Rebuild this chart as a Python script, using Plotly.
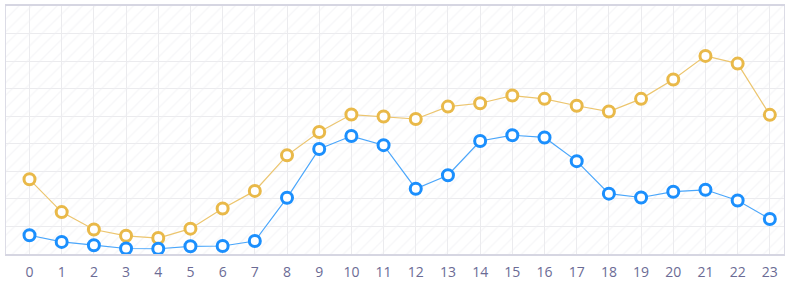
import plotly.graph_objects as go

hours = list(range(24))
tick_labels = [str(h) for h in hours]
series_yellow = [271, 152, 89, 66, 58, 92, 165, 229, 358, 443, 506, 499, 490, 535, 547, 575, 563, 538, 517, 563, 633, 719, 691, 505]
series_blue = [68, 44, 32, 20, 19, 28, 29, 47, 204, 381, 428, 395, 237, 286, 410, 431, 423, 337, 219, 205, 226, 233, 194, 127]

x_range = [-0.73, 23.44]
y_range = [0, 900]

yellow = "#e9b949"
yellow_line = "#ecc56e"
blue = "#1b8ffd"
blue_line = "#4aa6fb"

fig = go.Figure()

# hatched background
fig.add_trace(go.Scatter(
    x=[x_range[0], x_range[1], x_range[1], x_range[0], x_range[0]],
    y=[y_range[0], y_range[0], y_range[1], y_range[1], y_range[0]],
    mode="lines", line=dict(width=0), fill="toself", fillcolor="rgba(255,255,255,0)",
    fillpattern=dict(shape="/", fgcolor="#eeeef1", bgcolor="rgba(255,255,255,0)", size=9, solidity=0.15),
    hoverinfo="skip", showlegend=False,
))

for vals, mc, lc in [(series_yellow, yellow, yellow_line), (series_blue, blue, blue_line)]:
    fig.add_trace(go.Scatter(
        x=hours, y=vals, mode="lines+markers",
        line=dict(color=lc, width=1.2),
        marker=dict(size=11, color="white", line=dict(color=mc, width=3)),
        showlegend=False,
    ))

fig.update_layout(
    width=789, height=285,
    margin=dict(l=6, r=4, t=5, b=28),
    paper_bgcolor="white", plot_bgcolor="white",
    font=dict(family="Open Sans", size=14, color="#6b6b95"),
)
fig.update_xaxes(
    range=x_range, tickvals=hours, ticktext=tick_labels,
    showgrid=True, gridcolor="#ebebee", gridwidth=1,
    zeroline=False, showline=True, linecolor="#d6d6e2", linewidth=1.5, mirror=True,
    ticks="", ticklabelstandoff=4,
)
fig.update_yaxes(
    range=y_range, dtick=100, showticklabels=False,
    showgrid=True, gridcolor="#ebebee", gridwidth=1,
    zeroline=False, showline=True, linecolor="#dcdce6", linewidth=1, mirror=True,
)

fig.write_html("out.html")
